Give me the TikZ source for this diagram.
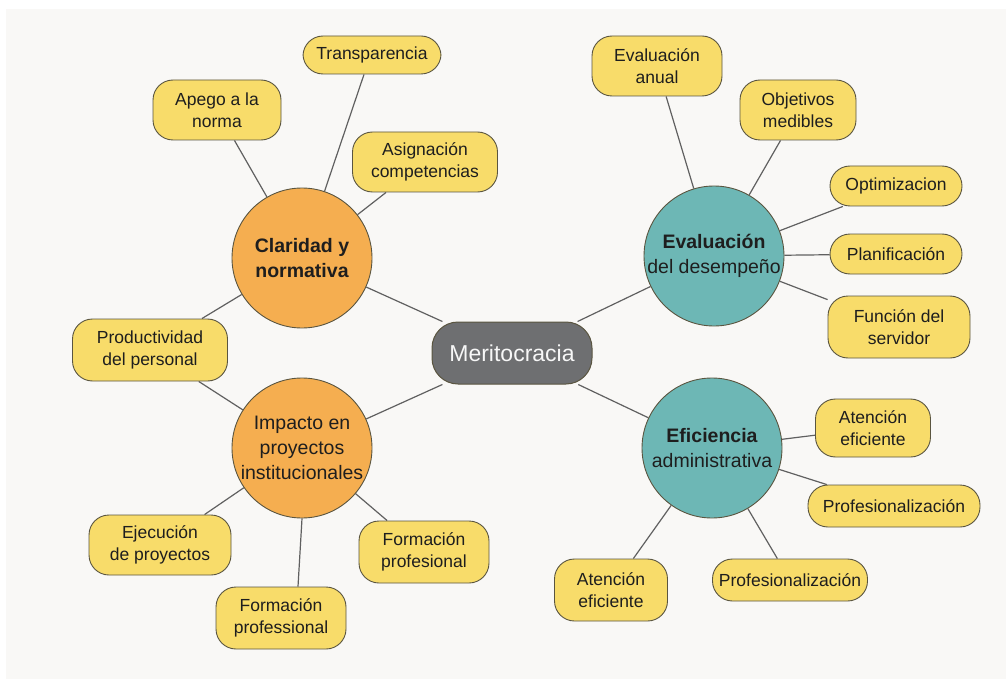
\documentclass[tikz,border=0pt]{standalone}
\usepackage{fontspec}
\setmainfont{Liberation Sans}
\usetikzlibrary{backgrounds}
\definecolor{bgpanel}{HTML}{F9F8F6}
\definecolor{leafy}{HTML}{F8DC6A}
\definecolor{hubor}{HTML}{F5AE50}
\definecolor{hubte}{HTML}{6DB7B5}
\definecolor{merit}{HTML}{6E6F71}
\definecolor{edge}{HTML}{606060}
\definecolor{bord}{HTML}{5A5540}
\definecolor{txt}{HTML}{1E1E1E}
\begin{document}
\begin{tikzpicture}[x=1pt,y=-1pt,
  leaf/.style={draw=bord,line width=0.9pt,fill=leafy,rounded corners=20pt,align=center,
    font=\fontsize{17.5}{22}\selectfont,text=txt,inner sep=0pt},
  hub/.style={draw=bord,line width=0.9pt,circle,minimum size=140pt,align=center,
    font=\fontsize{19.5}{25}\selectfont,text=txt,inner sep=0pt},
  conn/.style={draw=edge,line width=1.2pt}]
% nodes
\node[draw=bord,line width=1pt,fill=merit,rounded corners=26pt,minimum width=160pt,minimum height=62pt,
  font=\fontsize{23}{26}\selectfont,text=white!94!gray] (mer) at (512,353) {Meritocracia};
\node[hub,fill=hubor] (cla) at (302,258) {\bfseries Claridad y\\\bfseries normativa};
\node[hub,fill=hubor] (imp) at (302,448) {Impacto en\\proyectos\\institucionales};
\node[hub,fill=hubte] (eva) at (714,256) {\bfseries Evaluación\\del desempeño};
\node[hub,fill=hubte] (efi) at (712,448) {\bfseries Eficiencia\\administrativa};
% leaves left
\node[leaf,minimum width=138pt,minimum height=38pt] (tra) at (372,55) {Transparencia};
\node[leaf,minimum width=128pt,minimum height=60pt] (ape) at (217,110) {Apego a la\\norma};
\node[leaf,minimum width=145pt,minimum height=60pt] (asi) at (425,162) {Asignación\\competencias};
\node[leaf,minimum width=155pt,minimum height=62pt] (pro) at (150,350) {Productividad\\del personal};
\node[leaf,minimum width=142pt,minimum height=60pt] (eje) at (160,545) {Ejecución\\de proyectos};
\node[leaf,minimum width=130pt,minimum height=62pt] (fp2) at (281,618) {Formación\\professional};
\node[leaf,minimum width=130pt,minimum height=62pt] (fp1) at (424,552) {Formación\\profesional};
% leaves right
\node[leaf,minimum width=130pt,minimum height=60pt] (ean) at (657,66) {Evaluación\\anual};
\node[leaf,minimum width=116pt,minimum height=60pt] (obj) at (798,110) {Objetivos\\medibles};
\node[leaf,minimum width=132pt,minimum height=40pt] (opt) at (896,186) {Optimizacion};
\node[leaf,minimum width=132pt,minimum height=40pt] (pla) at (896,254) {Planificación};
\node[leaf,minimum width=142pt,minimum height=62pt] (fun) at (899,327) {Función del\\servidor};
\node[leaf,minimum width=115pt,minimum height=58pt] (at1) at (873,428) {Atención\\eficiente};
\node[leaf,minimum width=172pt,minimum height=42pt] (pr1) at (894,506) {Profesionalización};
\node[leaf,minimum width=113pt,minimum height=62pt] (at2) at (611,590) {Atención\\eficiente};
\node[leaf,minimum width=155pt,minimum height=42pt] (pr2) at (790,580) {Profesionalización};
% background and connectors
\begin{scope}[on background layer]
\fill[white] (0,0) rectangle (1006,679);
\fill[bgpanel] (6,9) rectangle (1006,679);
\draw[conn] (mer) -- (cla);
\draw[conn] (mer) -- (imp);
\draw[conn] (mer) -- (eva);
\draw[conn] (mer) -- (efi);
\draw[conn] (cla) -- ([xshift=-8pt]tra.south);
\draw[conn] (cla) -- (ape);
\draw[conn] (cla) -- (asi);
\draw[conn] (cla) -- (pro);
\draw[conn] (imp) -- (pro);
\draw[conn] (imp) -- (eje);
\draw[conn] (imp.south) -- ([xshift=17pt]fp2.north);
\draw[conn] (imp) -- (fp1);
\draw[conn] (eva) -- (ean);
\draw[conn] (eva) -- (obj);
\draw[conn] (eva) -- (opt);
\draw[conn] (eva) -- (pla);
\draw[conn] (eva) -- (fun);
\draw[conn] (efi) -- (at1);
\draw[conn] (efi) -- (pr1);
\draw[conn] (efi) -- (at2);
\draw[conn] (efi) -- (pr2);
\end{scope}
\end{tikzpicture}
\end{document}
